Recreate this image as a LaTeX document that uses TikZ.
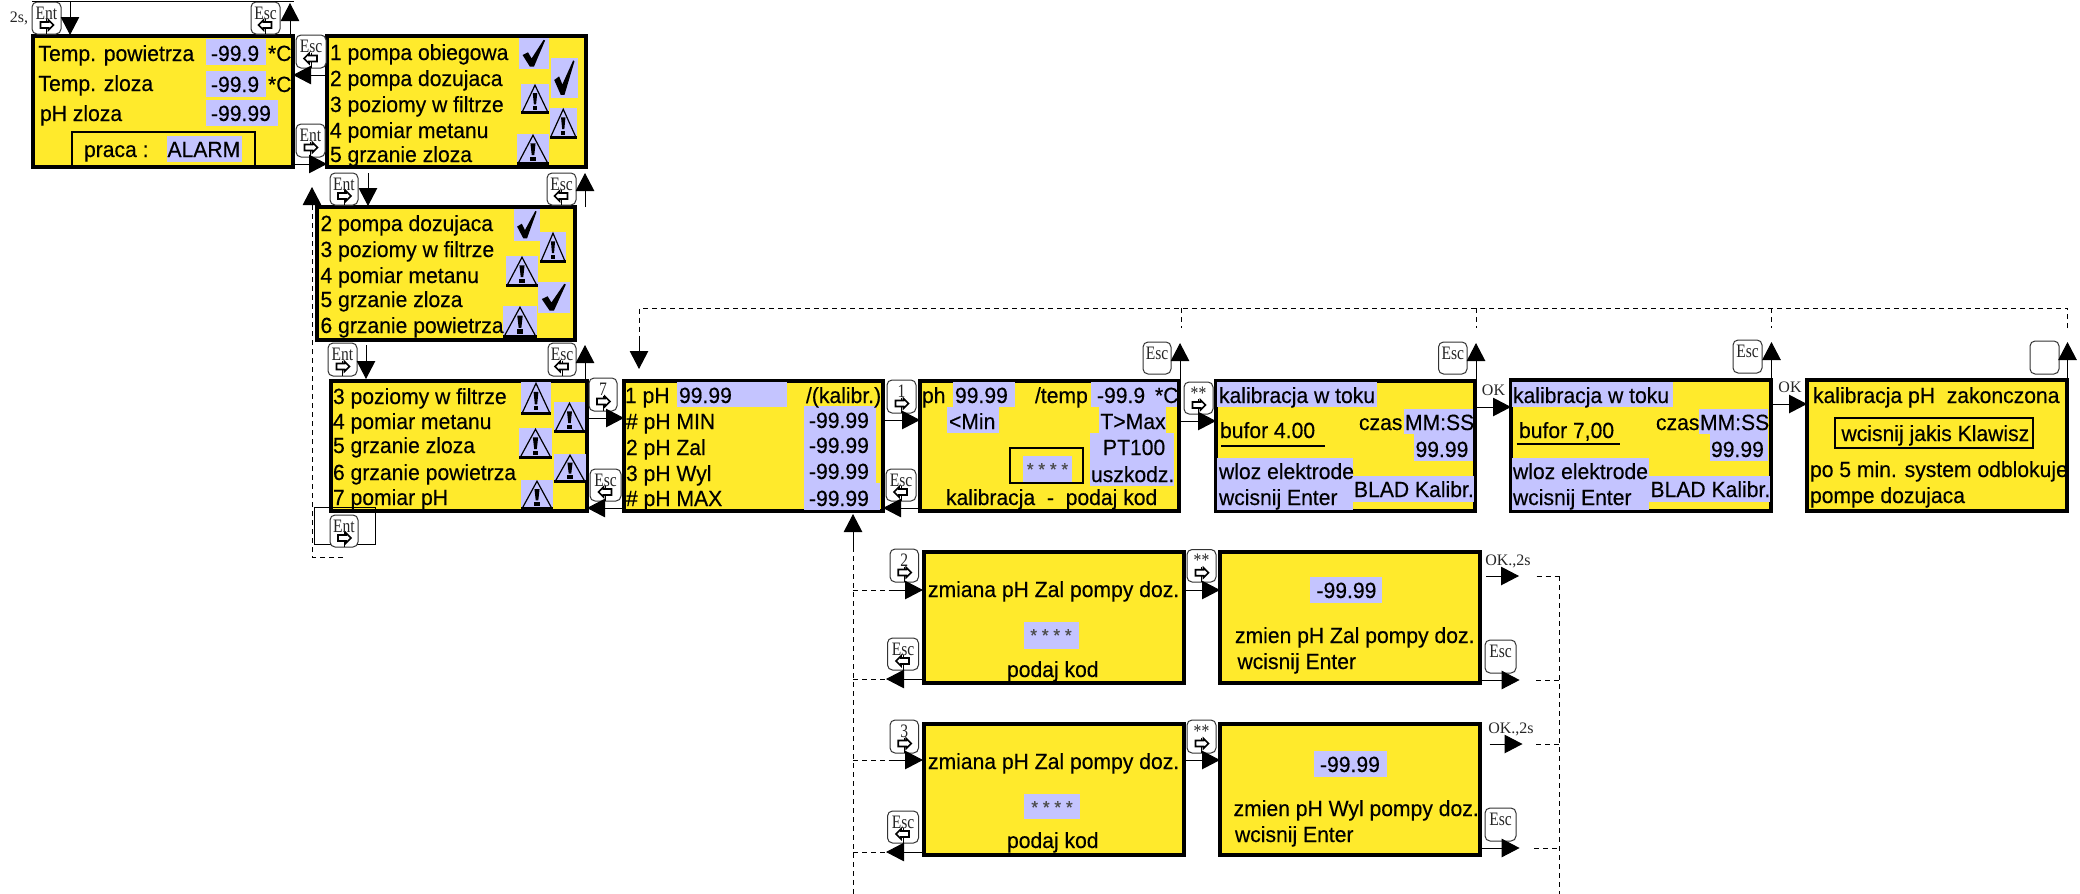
\documentclass[tikz,border=0pt]{standalone}
\usepackage{fontspec}
\setmainfont[FakeStretch=0.96,FakeBold=0.3]{Liberation Sans}
\newfontfamily\keyfont{Liberation Serif}
\newfontfamily\keylabelfont[FakeStretch=0.82]{Liberation Serif}
\usetikzlibrary{arrows.meta}
\definecolor{lcd}{HTML}{FFEA2C}
\definecolor{lavend}{HTML}{C4C4FF}
\newcounter{tn}
\tikzset{
  screen/.style={draw=black,line width=3.4pt,fill=lcd,inner sep=0pt,outer sep=0pt},
  txt/.style={font=\fontsize{22}{24}\selectfont,inner sep=0pt,outer sep=0pt,anchor=base west},
  stars/.style={font=\fontsize{18}{20}\selectfont,text=black!70,inner sep=0pt,anchor=base},
  serif/.style={font=\keyfont\fontsize{16}{18}\selectfont,inner sep=0pt,text=black!85},
  keylab/.style={font=\keylabelfont\fontsize{19}{20}\selectfont,inner sep=0pt,text=black!85},
  keybox/.style={draw=black!80,line width=1pt,rounded corners=5pt,fill=white,inner sep=0pt,outer sep=0pt},
  flow/.style={line width=1pt,-{Triangle[length=18pt,width=18.5pt]}},
  dashline/.style={line width=1pt,dash pattern=on 5pt off 4pt},
  plain/.style={line width=1pt},
  lcdbox/.style={draw=black,line width=2.4pt},
}
% screen frame
\newcommand{\screen}[5]{\node[screen,minimum width={#4-#2},minimum height={#5-#3}] (#1) at ({(#2+#4)/2},{(#3+#5)/2}) {};}
% highlight
\newcommand{\hl}[4]{\fill[lavend] (#1,#2) rectangle (#3,#4);}
% text at baseline
\newcommand{\T}[3]{\stepcounter{tn}\node[txt] (t\arabic{tn}) at (#1,#2) {#3};}
\newcommand{\stars}[2]{\stepcounter{tn}\node[stars] (t\arabic{tn}) at (#1,#2) {* * * *};}
\newcommand{\sr}[3]{\stepcounter{tn}\node[serif] (t\arabic{tn}) at (#1,#2) {#3};}
% icons
\newcommand{\chk}[4]{\hl{#1}{#2}{#3}{#4}%
  \pgfmathsetmacro{\icw}{#3-#1}\pgfmathsetmacro{\ich}{#4-#2}%
  \begin{scope}[shift={(#1,#2)},x=\icw pt,y=-\ich pt]
    \fill[black] (.12,.55) -- (.3,.46) -- (.42,.66) -- (.82,.06) -- (.87,.08) -- (.5,.92) -- (.36,.92) -- cycle;
  \end{scope}}
\newcommand{\warn}[4]{\hl{#1}{#2}{#3}{#4}%
  \pgfmathsetmacro{\icw}{#3-#1}\pgfmathsetmacro{\ich}{#4-#2}%
  \begin{scope}[shift={(#1,#2)},x=\icw pt,y=-\ich pt]
    \draw[black,line width=1.2pt,line join=miter] (.05,.92) -- (.5,.04) -- (.95,.92);
    \fill[black] (0,.9) rectangle (1,1);
    \fill[black] (.42,.3) -- (.58,.3) -- (.54,.68) -- (.46,.68) -- cycle;
    \fill[black] (.42,.73) rectangle (.58,.86);
  \end{scope}}
% keys
\newcommand{\keybase}[6]{\node[keybox,minimum width={#4-#2},minimum height={#5-#3}] (#1) at ({(#2+#4)/2},{(#3+#5)/2}) {};
  \node[keylab] (#1L) at ([yshift=-11pt]#1.north) {#6};}
\newcommand{\keyN}[6]{\keybase{#1}{#2}{#3}{#4}{#5}{#6}}
\newcommand{\keyR}[6]{\keybase{#1}{#2}{#3}{#4}{#5}{#6}
  \begin{scope}[shift={(#1.center)}]
    \draw[black,line width=.8pt] (0,1) -- (0,16);
    \draw[black,line width=1.6pt,fill=white] (-6,4) -- (2,4) -- (2,2) -- (7,7) -- (2,12) -- (2,10) -- (-6,10) -- cycle;
  \end{scope}}
\newcommand{\keyL}[6]{\keybase{#1}{#2}{#3}{#4}{#5}{#6}
  \begin{scope}[shift={(#1.center)}]
    \draw[black,line width=.8pt] (0,1) -- (0,16);
    \draw[black,line width=1.6pt,fill=white] (6,4) -- (-2,4) -- (-2,2) -- (-7,7) -- (-2,12) -- (-2,10) -- (6,10) -- cycle;
  \end{scope}}
% connectors
\newcommand{\link}[5]{\coordinate (#1a) at (#2,#3);\coordinate (#1b) at (#4,#5);\draw[flow] (#1a) -- (#1b);}
\newcommand{\hlink}[4]{\coordinate (#1y) at (0,#4);\draw[flow] (#2 |- #1y) -- (#3 |- #1y);}
\newcommand{\dlink}[5]{\coordinate (#1a) at (#2,#3);\coordinate (#1b) at (#4,#5);\draw[dashline] (#1a) -- (#1b);}
\begin{document}
\begin{tikzpicture}[x=1pt,y=-1pt]
\useasboundingbox (0,0) rectangle (2080,894);
\fill[white] (0,0) rectangle (2080,894);

% ---------- screens
\screen{s1}{33}{36}{293}{167}
\screen{s2}{327}{36}{586}{167}
\screen{s3}{317}{207}{575}{340}
\screen{s4}{331}{381}{587}{511}
\screen{s5}{624}{381}{883}{511}
\screen{s6}{920}{381}{1179}{511}
\screen{s7}{1216}{381}{1475}{511}
\screen{s8}{1511}{380}{1771}{511}
\screen{s9}{1807}{380}{2067}{511}
\screen{s10}{924}{552}{1184}{683}
\screen{s11}{1220}{552}{1480}{683}
\screen{s12}{924}{724}{1184}{855}
\screen{s13}{1220}{724}{1480}{855}

% ---------- screen 1
\hl{206}{39}{266}{65}\hl{206}{71}{266}{97}\hl{206}{100}{278}{126}
\T{38.5}{61}{Temp. powietrza}\T{38.5}{91}{Temp. zloza}\T{40}{121}{pH zloza}
\T{211}{61}{-99.9}\T{268}{61}{*C}\T{211}{92}{-99.9}\T{268}{92}{*C}\T{211}{121}{-99.99}
\draw[lcdbox] (72,132) rectangle (255,167);
\hl{167}{136}{241.5}{162}
\T{84}{157}{praca :}\T{167.5}{157}{ALARM}

% ---------- screen 2
\chk{519}{38}{549}{69}\chk{551}{58}{578}{98}\warn{521}{84}{549}{114}\warn{549.5}{108}{577}{139}\warn{517}{134}{549}{165}
\T{330}{60}{1 pompa obiegowa}\T{330}{86}{2 pompa dozujaca}\T{330}{112}{3 poziomy w filtrze}\T{330}{138}{4 pomiar metanu}\T{330}{162}{5 grzanie zloza}

% ---------- screen 3
\chk{514}{209}{540}{241}\warn{540}{232}{566}{263}\warn{506}{256}{538}{287}\chk{538}{282}{570}{313}\warn{503}{306}{537}{338}
\T{320.5}{231}{2 pompa dozujaca}\T{320.5}{257}{3 poziomy w filtrze}\T{320.5}{283}{4 pomiar metanu}\T{320.5}{307}{5 grzanie zloza}\T{320.5}{333}{6 grzanie powietrza}

% ---------- screen 4
\warn{521}{382}{551}{415}\warn{554}{402}{585}{433}\warn{519}{428}{552}{459}\warn{554}{454}{586}{483}\warn{521}{480}{553}{510}
\T{333}{404}{3 poziomy w filtrze}\T{333}{429}{4 pomiar metanu}\T{333}{453}{5 grzanie zloza}\T{333}{480}{6 grzanie powietrza}\T{333}{505}{7 pomiar pH}

% ---------- screen 5
\hl{677}{382}{787}{407}\hl{804}{406}{876}{483}\hl{804}{483}{880}{510}
\T{625}{403}{1 pH}\T{679}{403}{99.99}\T{806}{403}{/(kalibr.)}
\T{626}{429}{\# pH MIN}\T{626}{455}{2 pH Zal}\T{626}{481}{3 pH Wyl}\T{626}{506}{\# pH MAX}
\T{809}{428}{-99.99}\T{809}{453}{-99.99}\T{809}{479}{-99.99}\T{809}{506}{-99.99}

% ---------- screen 6
\hl{953}{382}{1015}{407}\hl{1091}{382}{1177}{407}\hl{947}{407}{999}{433}\hl{1099}{407}{1166}{433}\hl{1090}{433}{1174}{486}
\T{922}{403}{ph}\T{955}{403}{99.99}\T{1035}{403}{/temp}\T{1097}{403}{-99.9}\T{1155}{403}{*C}
\T{949}{429}{<Min}\T{1100.5}{429}{T>Max}\T{1103}{455}{PT100}\T{1091}{482}{uszkodz.}
\draw[lcdbox] (1010,448) rectangle (1083,483);
\hl{1023}{456}{1072}{481.5}
\stars{1047.5}{475.5}
\T{946}{505}{kalibracja~~-~~podaj kod}

% ---------- screen 7
\hl{1217}{382}{1377}{407}\hl{1404}{409}{1473}{434}\hl{1414}{434}{1473}{461}\hl{1217}{458}{1353}{510}\hl{1353}{476}{1474}{502}
\T{1219}{403}{kalibracja w toku}\T{1220}{438}{bufor 4.00}
\draw[line width=1.5pt] (1221,446) -- (1325,446);
\T{1359}{430}{czas}\T{1405}{430}{MM:SS}\T{1415.5}{457}{99.99}
\T{1219}{479}{wloz elektrode}\T{1219}{505}{wcisnij Enter}\T{1354}{497}{BLAD Kalibr.}

% ---------- screen 8
\hl{1512}{382}{1673}{407}\hl{1699}{409}{1768}{434}\hl{1710}{434}{1768}{461}\hl{1512}{458}{1649}{510}\hl{1649}{476}{1770}{502}
\T{1513}{403}{kalibracja w toku}\T{1519}{438}{bufor 7,00}
\draw[line width=1.5pt] (1516.5,444) -- (1620,444);
\T{1656}{430}{czas}\T{1700}{430}{MM:SS}\T{1711}{457}{99.99}
\T{1513}{479}{wloz elektrode}\T{1513}{505}{wcisnij Enter}\T{1650.5}{497}{BLAD Kalibr.}

% ---------- screen 9
\T{1813}{403}{kalibracja pH~~zakonczona}
\draw[line width=2pt] (1835,418) rectangle (2033,448);
\T{1841.5}{441}{wcisnij jakis Klawisz}
\T{1810}{477}{po 5 min. system odblokuje}\T{1810}{503}{pompe dozujaca}

% ---------- screens 10-13
\hl{1024}{622}{1078.5}{649}\T{928}{597}{zmiana pH Zal pompy doz.}\stars{1051}{641.5}\T{1007}{677}{podaj kod}
\hl{1310}{577}{1382}{603}\T{1316.5}{598}{-99.99}\T{1235}{643}{zmien pH Zal pompy doz.}\T{1237.5}{669}{wcisnij Enter}
\hl{1024}{794}{1080}{819}\T{928}{769}{zmiana pH Zal pompy doz.}\stars{1052}{813.5}\T{1007}{848}{podaj kod}
\hl{1314}{751}{1387}{777}\T{1320}{772}{-99.99}\T{1233.6}{816}{zmien pH Wyl pompy doz.}\T{1235}{842}{wcisnij Enter}

% ---------- keys
\keyR{k1}{32}{2}{61}{34}{Ent}
\keyL{k2}{251}{2}{280}{34}{Esc}
\keyL{k3}{296}{35}{326}{68}{Esc}
\keyR{k4}{296}{124}{325}{157}{Ent}
\keyR{k5}{330}{173}{358}{205}{Ent}
\keyL{k6}{547}{173}{576}{205}{Esc}
\keyR{k7}{328}{343}{357}{376}{Ent}
\keyL{k8}{548}{343}{576}{376}{Esc}
\keyR{k9}{589}{378}{617}{411}{7}
\keyL{k10}{590}{469}{621}{501}{Esc}
\keyR{k12}{887}{380}{916}{413}{1}
\keyL{k13}{886}{469}{916}{501}{Esc}
\keyN{k14}{1143}{342}{1171}{374}{Esc}
\keyR{k15}{1184}{382}{1213}{414}{**}
\keyN{k16}{1438.5}{342}{1467}{374}{Esc}
\keyN{k17}{1733}{340}{1762}{373}{Esc}
\keyN{k18}{2030}{341}{2059}{374}{}
\keyR{k19}{890}{549}{918.5}{582}{2}
\keyR{k20}{1187}{549.5}{1216}{582}{**}
\keyN{k21}{1485}{640}{1516}{673}{Esc}
\keyL{k22}{887.5}{638}{918.5}{670}{Esc}
\keyR{k23}{890}{720}{918.5}{753}{3}
\keyR{k24}{1187}{720}{1216}{753}{**}
\keyN{k25}{1485}{808}{1516}{841}{Esc}
\keyL{k26}{887.5}{811}{918.5}{843}{Esc}
% the thin frame round the last Ent key
\coordinate (fa) at (314,507);\coordinate (fb) at (375,544);
\draw[plain] (fa) rectangle (fb);
\keyR{k11}{330}{515}{358}{547}{Ent}

% ---------- free labels
\sr{19}{18}{2s,}\sr{1493.5}{390}{OK}\sr{1790}{387}{OK}\sr{1508}{561}{OK.,2s}\sr{1511}{729}{OK.,2s}

% ---------- connectors between screens
\hlink{c1}{s2.west}{s1.east}{75}
\hlink{c2}{s1.east}{s2.west}{164}
\hlink{c3}{s4.east}{s5.west}{418}
\hlink{c4}{s5.west}{s4.east}{508}
\hlink{c5}{s5.east}{s6.west}{420}
\hlink{c6}{s6.west}{s5.east}{508}
\hlink{c7}{s6.east}{s7.west}{421}
\hlink{c8}{s7.east}{s8.west}{407}
\hlink{c9}{s8.east}{s9.west}{404}
\hlink{c10}{s10.east}{s11.west}{590}
\hlink{c11}{s12.east}{s13.west}{760}

% ---------- free-ended connectors
\coordinate (ta) at (32,1);\coordinate (tb) at (294,1);\draw[plain] (ta) -- (tb);
\link{a1}{70}{2}{70}{35}
\link{a2}{290}{35}{290}{3}
\link{a3}{368}{173}{368}{206}
\link{a4}{585}{207}{585}{173}
\link{a5}{312}{205}{312}{187}
\link{a6}{366}{345}{366}{379}
\link{a7}{585}{379}{585}{345}
\link{a8}{639}{337}{639}{369}
\link{a9}{1180}{379}{1180}{343}
\link{a10}{1476}{379}{1476}{343}
\link{a11}{1771.5}{379}{1771.5}{342}
\link{a12}{2067.5}{379}{2067.5}{342}
\link{a13}{853}{547}{853}{514}
\link{a14}{888.5}{590}{923}{590}
\link{a15}{923}{679}{886}{679}
\link{a16}{888.5}{760}{923}{760}
\link{a17}{923}{852}{886}{852}
\link{a18}{1486}{576}{1519}{576}
\link{a19}{1482}{680}{1519.6}{680}
\link{a20}{1489.5}{744}{1522.5}{744}
\link{a21}{1482}{848}{1519.6}{848}

% ---------- dashed lines
\coordinate (p1) at (343,557);\coordinate (p2) at (312,557);
\draw[dashline] (p1) -- (p2) -- (a5a);
\coordinate (p3) at (2067.5,328);\coordinate (p4) at (2067.5,308);\coordinate (p5) at (639,308);
\draw[dashline] (p3) -- (p4) -- (p5) -- (a8a);
\dlink{d1}{1181}{308}{1181}{328}
\dlink{d2}{1476}{308}{1476}{328}
\dlink{d3}{1771.5}{308}{1771.5}{328}
\dlink{d4}{853}{547}{853}{894}
\dlink{d5}{853}{590}{888.5}{590}
\dlink{d6}{853}{679}{886}{679}
\dlink{d7}{853}{760}{888.5}{760}
\dlink{d8}{853}{852}{886}{852}
\dlink{d9}{1559}{576}{1559}{894}
\dlink{d10}{1536.6}{576}{1559}{576}
\dlink{d11}{1536}{680}{1559}{680}
\dlink{d12}{1536}{744}{1559}{744}
\dlink{d13}{1534}{848}{1559}{848}
\end{tikzpicture}
\end{document}
